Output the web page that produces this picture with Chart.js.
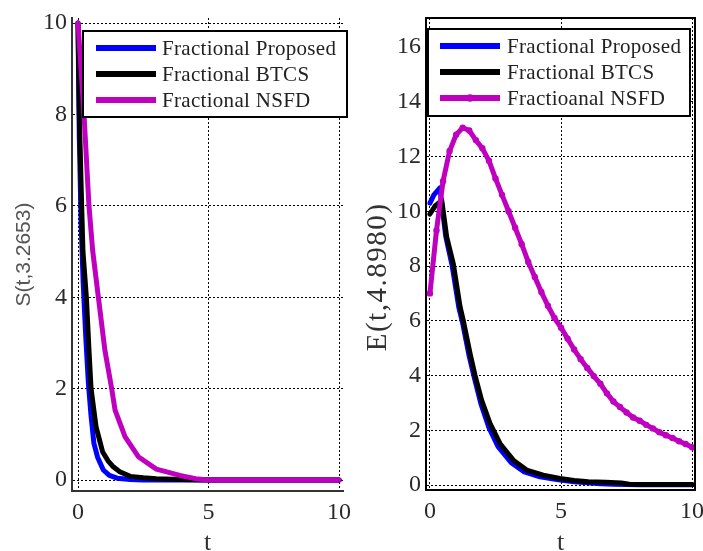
<!DOCTYPE html>
<html><head><meta charset="utf-8">
<script src="https://cdn.jsdelivr.net/npm/chart.js@4.4.1/dist/chart.umd.min.js"></script>
<style>
html,body{margin:0;padding:0;background:#fff;width:703px;height:551px;overflow:hidden;}
#c1{position:absolute;left:0;top:0;}
#c2{position:absolute;left:352px;top:0;}
</style></head><body>
<canvas id="c1" width="352" height="551"></canvas>
<canvas id="c2" width="351" height="551"></canvas>
<script>
// ---------- data: left panel S(t,3.2653) ----------
const tS_prop = [0, 0.05, 0.12, 0.2, 0.3, 0.4, 0.5, 0.61, 0.75, 0.97, 1.2, 1.5, 2.0, 2.5, 3, 4, 5, 6, 7, 8, 9, 10];
const S_prop  = [10, 7.5, 5.6, 4.3, 3.1, 2.1, 1.4, 0.8, 0.5, 0.22, 0.1, 0.04, 0.01, 0, 0, 0, 0, 0, 0, 0, 0, 0];
const tS_btcs = [0, 0.05, 0.14, 0.19, 0.32, 0.42, 0.5, 0.69, 0.94, 1.15, 1.35, 1.6, 2.0, 2.5, 3.0, 4.0, 5, 6, 7, 8, 9, 10];
const S_btcs  = [10, 8.0, 6.0, 5.0, 4.0, 2.85, 2.0, 1.17, 0.62, 0.42, 0.29, 0.18, 0.08, 0.05, 0.03, 0.01, 0, 0, 0, 0, 0, 0];
const tS_nsfd = [0, 0.23, 0.42, 0.56, 0.78, 1.03, 1.29, 1.42, 1.8, 2.31, 3.0, 3.9, 4.5, 5, 6, 7, 8, 9, 10];
const S_nsfd  = [10, 8.0, 6.0, 5.03, 4.0, 2.84, 2.0, 1.53, 0.95, 0.51, 0.24, 0.1, 0.03, 0, 0, 0, 0, 0, 0];

// ---------- data: right panel E(t,4.8980) ----------
const tE_prop = [0, 0.15, 0.38, 0.6, 0.85, 1.1, 1.25, 1.5, 1.7, 1.95, 2.25, 2.6, 3.1, 3.6, 4.2, 4.9, 5.5, 6.0, 6.5, 7, 8, 9, 10];
const E_prop  = [10.3, 10.6, 10.85, 9.1, 8.0, 6.5, 5.9, 4.7, 3.9, 2.95, 2.1, 1.4, 0.82, 0.48, 0.3, 0.19, 0.12, 0.08, 0.05, 0.03, 0.01, 0.01, 0.01];
const tE_btcs = [0, 0.2, 0.45, 0.64, 0.89, 1.15, 1.27, 1.53, 1.72, 1.97, 2.29, 2.67, 3.18, 3.69, 4.32, 4.96, 5.5, 6.04, 6.7, 7.3, 7.6, 8, 9, 10];
const E_btcs  = [9.9, 10.2, 10.4, 9.06, 8.09, 6.51, 6.02, 4.81, 4.01, 3.10, 2.25, 1.52, 0.91, 0.55, 0.36, 0.24, 0.17, 0.12, 0.1, 0.08, 0.03, 0.02, 0.02, 0.02];
const tE_nsfd = [0, 0.25, 0.5, 0.75, 1.0, 1.25, 1.5, 1.75, 2.0, 2.25, 2.5, 2.75, 3.0, 3.25, 3.5, 3.75, 4.0, 4.25, 4.5, 4.75, 5.0,
                 5.25, 5.5, 5.75, 6.0, 6.25, 6.5, 6.75, 7.0, 7.25, 7.5, 7.75, 8.0, 8.25, 8.5, 8.75, 9.0, 9.25, 9.5, 9.75, 10.0];
const E_nsfd  = [7.0, 9.3, 11.1, 12.2, 12.8, 13.05, 12.95, 12.6, 12.3, 11.85, 11.2, 10.6, 10.0, 9.4, 8.8, 8.15, 7.6, 7.05, 6.55, 6.1, 5.75,
                 5.35, 4.95, 4.6, 4.28, 3.98, 3.7, 3.35, 3.05, 2.85, 2.65, 2.47, 2.35, 2.2, 2.07, 1.93, 1.82, 1.72, 1.6, 1.5, 1.38];

// ---------- labels & ticks ----------
const leftLabels  = ['Fractional Proposed', 'Fractional BTCS', 'Fractional NSFD'];
const rightLabels = ['Fractional Proposed', 'Fractional BTCS', 'Fractioanal NSFD'];
const xTicks  = [0, 5, 10];
const ySTicks = [0, 2, 4, 6, 8, 10];
const yETicks = [0, 2, 4, 6, 8, 10, 12, 14, 16];
const yTitleS = 'S(t,3.2653)';
const yTitleE = 'E(t,4.8980)';
const xTitle  = 't';

const colors = ['#0000ff', '#000000', '#bf00bf'];
const SERIF = "'Liberation Serif', 'Times New Roman', serif";

function pts(t, v) { return t.map((x, i) => ({x: x, y: v[i]})); }

const legendPlugin = {
  id: 'boxLegend',
  afterDraw(chart, args, o) {
    const ctx = chart.ctx;
    ctx.save();
    if (o.frame) {
      const a = chart.chartArea;
      ctx.strokeStyle = '#000'; ctx.lineWidth = 2;
      ctx.beginPath();
      ctx.moveTo(a.left, a.top); ctx.lineTo(a.right, a.top); ctx.lineTo(a.right, a.bottom);
      ctx.stroke();
    }
    if (o.yTitle) {
      ctx.save();
      ctx.translate(o.yTitle.x, o.yTitle.y);
      ctx.rotate(-Math.PI / 2);
      ctx.font = o.yTitle.font; ctx.fillStyle = '#333';
      if ('letterSpacing' in ctx) ctx.letterSpacing = o.yTitle.spacing;
      ctx.textAlign = 'center'; ctx.textBaseline = 'middle';
      ctx.fillText(o.yTitle.text, 0, 0);
      ctx.restore();
    }
    const b = o.box;
    ctx.fillStyle = '#fff';
    ctx.fillRect(b[0], b[1], b[2] - b[0], b[3] - b[1]);
    ctx.strokeStyle = '#000'; ctx.lineWidth = 2;
    ctx.strokeRect(b[0], b[1], b[2] - b[0], b[3] - b[1]);
    chart.data.datasets.forEach((ds, i) => {
      const y = o.rows[i];
      ctx.strokeStyle = ds.borderColor; ctx.lineWidth = 6; ctx.lineCap = 'butt';
      ctx.beginPath(); ctx.moveTo(o.x1, y); ctx.lineTo(o.x2, y); ctx.stroke();
      if (o.markers && ds.pointRadius > 0) {
        ctx.fillStyle = ds.borderColor;
        ctx.beginPath(); ctx.arc((o.x1 + o.x2) / 2, y, 3.8, 0, Math.PI * 2); ctx.fill();
      }
      ctx.fillStyle = '#222'; ctx.font = '21px ' + SERIF;
      if ('letterSpacing' in ctx) ctx.letterSpacing = '0.3px';
      ctx.textAlign = 'left'; ctx.textBaseline = 'middle';
      ctx.fillText(ds.label, o.textX, y + 1);
    });
    ctx.restore();
  }
};

function makeScales(cfg) {
  const tickFont = {family: SERIF, size: 24};
  return {
    x: {
      type: 'linear', min: cfg.xmin, max: cfg.xmax,
      afterBuildTicks: s => { s.ticks = xTicks.map(v => ({value: v})); },
      afterFit: s => { s.height = cfg.xh; s.paddingLeft = 0; s.paddingRight = 0; },
      grid: {color: '#000', lineWidth: 1, drawTicks: false},
      border: {display: true, color: cfg.axisColor, width: 2, dash: [2, 2]},
      ticks: {font: tickFont, color: '#2a2a2a', padding: 7, maxRotation: 0, autoSkip: false, callback: v => String(v)},
      title: {display: true, text: xTitle, color: '#333', font: {family: SERIF, size: 26, lineHeight: 1}, padding: {top: 0, bottom: -5}}
    },
    y: {
      type: 'linear', min: cfg.ymin, max: cfg.ymax,
      afterBuildTicks: s => { s.ticks = cfg.yTicks.map(v => ({value: v})); },
      afterFit: s => { s.width = cfg.yw; s.paddingTop = 0; s.paddingBottom = 0; },
      grid: {color: '#000', lineWidth: 1, drawTicks: false},
      border: {display: true, color: cfg.axisColor, width: 2, dash: [2, 2]},
      ticks: {font: tickFont, color: '#2a2a2a', padding: 5, autoSkip: false, callback: v => String(v)},
      title: cfg.yTitle
    }
  };
}

function dataset(label, t, v, color, order, radius) {
  return {label: label, data: pts(t, v), borderColor: color, backgroundColor: color,
          borderWidth: 5, pointRadius: radius || 0, pointHoverRadius: 0, pointBorderWidth: 0,
          tension: 0, order: order, borderJoinStyle: 'round', borderCapStyle: 'round'};
}

new Chart(document.getElementById('c1'), {
  type: 'line',
  data: {datasets: [
    dataset(leftLabels[0], tS_prop, S_prop, colors[0], 3),
    dataset(leftLabels[1], tS_btcs, S_btcs, colors[1], 2),
    dataset(leftLabels[2], tS_nsfd, S_nsfd, colors[2], 1)
  ]},
  options: {
    responsive: false, animation: false, devicePixelRatio: 1,
    layout: {padding: {left: 0, top: 18, right: 9, bottom: 0}},
    scales: makeScales({xmin: -0.23, xmax: 10.15, ymin: -0.24, ymax: 10.11, yTicks: ySTicks, xh: 60, yw: 72, axisColor: '#333',
      yTitle: {display: true, text: yTitleS, color: '#555', font: {family: "'Liberation Sans', Arial, sans-serif", size: 21}, padding: {top: 12, bottom: 0}}}),
    plugins: {
      legend: {display: false}, tooltip: {enabled: false},
      boxLegend: {box: [83, 31, 347, 117], x1: 96, x2: 156, textX: 162, rows: [48, 74, 100], markers: false}
    }
  },
  plugins: [legendPlugin]
});

new Chart(document.getElementById('c2'), {
  type: 'line',
  data: {datasets: [
    dataset(rightLabels[0], tE_prop, E_prop, colors[0], 3),
    dataset(rightLabels[1], tE_btcs, E_btcs, colors[1], 2),
    dataset(rightLabels[2], tE_nsfd, E_nsfd, colors[2], 1, 3.2)
  ]},
  options: {
    responsive: false, animation: false, devicePixelRatio: 1,
    layout: {padding: {left: 0, top: 18, right: 8, bottom: 0}},
    scales: makeScales({xmin: -0.15, xmax: 10.11, ymin: -0.18, ymax: 17.06, yTicks: yETicks, xh: 61, yw: 74, axisColor: '#000',
      yTitle: {display: false}}),
    plugins: {
      legend: {display: false}, tooltip: {enabled: false},
      boxLegend: {box: [76, 29, 338, 116], x1: 88, x2: 148, textX: 155, rows: [46, 72, 98], markers: true, frame: true,
        yTitle: {text: yTitleE, x: 26, y: 277, font: '29px ' + SERIF, spacing: '1.5px'}}
    }
  },
  plugins: [legendPlugin]
});
</script>
</body></html>
